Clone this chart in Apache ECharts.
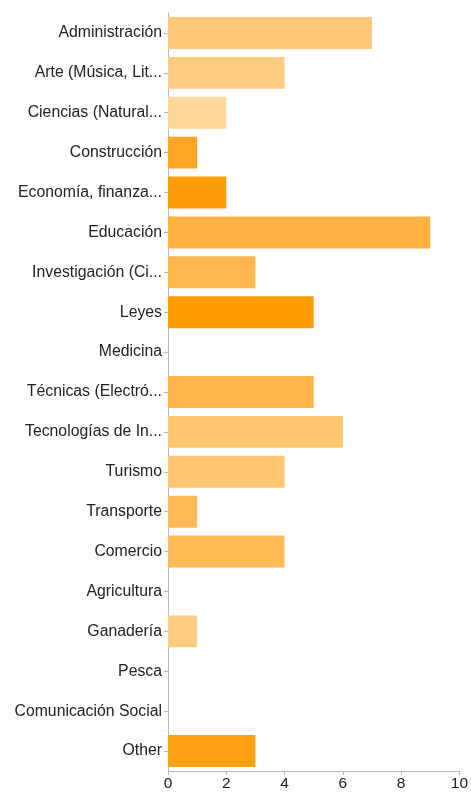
<!DOCTYPE html>
<html>
<head>
<meta charset="utf-8">
<script src="https://cdn.jsdelivr.net/npm/echarts@6/dist/echarts.min.js"></script>
<style>
  html, body { margin: 0; padding: 0; background: #fff; }
  #chart { width: 471px; height: 792px; }
</style>
</head>
<body>
<div id="chart"></div>
<script>
// Response counts per field
const categories = [
  'Administración',
  'Arte (Música, Lit...',
  'Ciencias (Natural...',
  'Construcción',
  'Economía, finanza...',
  'Educación',
  'Investigación (Ci...',
  'Leyes',
  'Medicina',
  'Técnicas (Electró...',
  'Tecnologías de In...',
  'Turismo',
  'Transporte',
  'Comercio',
  'Agricultura',
  'Ganadería',
  'Pesca',
  'Comunicación Social',
  'Other'
];
const values = [7, 4, 2, 1, 2, 9, 3, 5, 0, 5, 6, 4, 1, 4, 0, 1, 0, 0, 3];
const barColors = [
  '#FFC878', '#FFCC84', '#FFD89C', '#FFA525', '#FF9C0A', '#FFB241',
  '#FFB64E', '#FF9C00', '#FFB44A', '#FFB44A', '#FFC46E', '#FFC470',
  '#FFBA55', '#FFBB58', '#FFCB80', '#FFCB80', '#FFCB80', '#FFCB80', '#FFA014'
];
const xTicks = { min: 0, max: 10, interval: 2 };

const labelFont = 'Liberation Sans, Arial, sans-serif';

const chart = echarts.init(document.getElementById('chart'), null, { renderer: 'canvas' });
chart.setOption({
  animation: false,
  backgroundColor: '#ffffff',
  grid: { left: 168, right: 9, top: 13, bottom: 20, containLabel: false },
  xAxis: {
    type: 'value',
    min: xTicks.min,
    max: xTicks.max,
    interval: xTicks.interval,
    axisLine: { show: true, lineStyle: { color: '#b8b8b8', width: 1 } },
    axisTick: { show: true, length: 4, lineStyle: { color: '#b8b8b8' } },
    axisLabel: { color: '#222222', fontSize: 15.5, fontFamily: labelFont, margin: 5 },
    splitLine: { show: false }
  },
  yAxis: {
    type: 'category',
    inverse: true,
    data: categories,
    axisLine: { show: true, lineStyle: { color: '#b8b8b8', width: 1 } },
    axisTick: { show: true, length: 4, alignWithLabel: true, lineStyle: { color: '#b8b8b8' } },
    axisLabel: { color: '#222222', fontSize: 15.8, fontFamily: labelFont, margin: 6, padding: [3, 0, 0, 0] },
    splitLine: { show: false }
  },
  series: [{
    type: 'bar',
    barCategoryGap: '20%',
    data: values.map((v, i) => ({ value: v, itemStyle: { color: barColors[i] } }))
  }]
});
</script>
</body>
</html>
